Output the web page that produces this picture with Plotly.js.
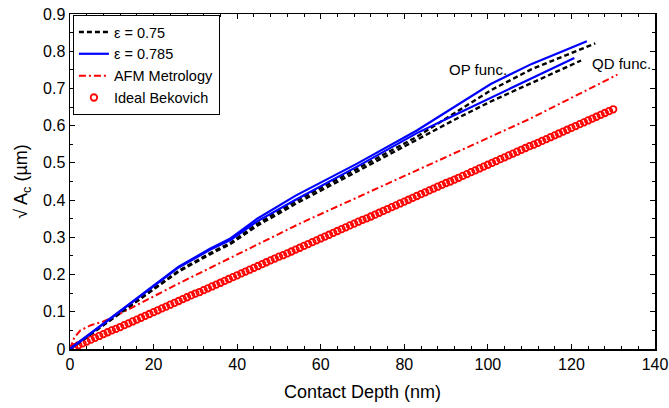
<!DOCTYPE html>
<html>
<head>
<meta charset="utf-8">
<script src="https://cdn.plot.ly/plotly-3.0.1.min.js"></script>
<style>html,body{margin:0;padding:0;background:#fff;}#chart{width:669px;height:408px;}</style>
</head>
<body>
<div id="chart"></div>
<script>
// ε = 0.785, OP function (upper solid blue)
const opBlueX = [0, 26, 33.6, 38.4, 44.8, 54, 68.7, 83, 100.7, 110.5, 123.7];
const opBlueY = [0, 0.221, 0.27, 0.297, 0.35, 0.412, 0.498, 0.587, 0.712, 0.766, 0.827];
// ε = 0.785, QD function (lower solid blue)
const qdBlueX = [0, 26, 33.6, 38.4, 44.8, 54, 68.7, 83, 92.7, 100.7, 120.7];
const qdBlueY = [0, 0.219, 0.267, 0.293, 0.343, 0.401, 0.49, 0.58, 0.632, 0.675, 0.782];
// ε = 0.75, OP function (upper black dashed)
const opBlackX = [0, 26, 33.6, 38.4, 44.8, 54, 68.7, 83, 100.7, 110.5, 125.7];
const opBlackY = [0, 0.21, 0.258, 0.285, 0.336, 0.397, 0.484, 0.57, 0.695, 0.752, 0.821];
// ε = 0.75, QD function (lower black dashed)
const qdBlackX = [0, 26, 33.6, 38.4, 44.8, 54, 68.7, 83, 92.7, 100.7, 122.3];
const qdBlackY = [0, 0.208, 0.255, 0.282, 0.331, 0.39, 0.477, 0.562, 0.62, 0.665, 0.775];
// AFM Metrology
const afmX = [0, 1, 2.5, 5, 8, 12, 26, 55, 83, 110, 131];
const afmY = [0, 0.03, 0.05, 0.064, 0.074, 0.095, 0.176, 0.337, 0.48, 0.618, 0.737];
// Ideal Berkovich
const idealX = [0,1,2,3,4,5,6,7,8,9,10,11,12,13,14,15,16,17,18,19,20,21,22,23,24,25,26,27,28,29,30,31,32,33,34,35,36,37,38,39,40,41,42,43,44,45,46,47,48,49,50,51,52,53,54,55,56,57,58,59,60,61,62,63,64,65,66,67,68,69,70,71,72,73,74,75,76,77,78,79,80,81,82,83,84,85,86,87,88,89,90,91,92,93,94,95,96,97,98,99,100,101,102,103,104,105,106,107,108,109,110,111,112,113,114,115,116,117,118,119,120,121,122,123,124,125,126,127,128,129,130];
const idealY = [0.000,0.005,0.010,0.015,0.020,0.025,0.030,0.035,0.040,0.045,0.050,0.054,0.059,0.064,0.069,0.074,0.079,0.084,0.089,0.094,0.099,0.104,0.109,0.114,0.119,0.124,0.129,0.134,0.139,0.144,0.149,0.153,0.158,0.163,0.168,0.173,0.178,0.183,0.188,0.193,0.198,0.203,0.208,0.213,0.218,0.223,0.228,0.233,0.238,0.243,0.248,0.252,0.257,0.262,0.267,0.272,0.277,0.282,0.287,0.292,0.297,0.302,0.307,0.312,0.317,0.322,0.327,0.332,0.337,0.342,0.347,0.351,0.356,0.361,0.366,0.371,0.376,0.381,0.386,0.391,0.396,0.401,0.406,0.411,0.416,0.421,0.426,0.431,0.436,0.441,0.446,0.450,0.455,0.460,0.465,0.470,0.475,0.480,0.485,0.490,0.495,0.500,0.505,0.510,0.515,0.520,0.525,0.530,0.535,0.540,0.545,0.549,0.554,0.559,0.564,0.569,0.574,0.579,0.584,0.589,0.594,0.599,0.604,0.609,0.614,0.619,0.624,0.629,0.634,0.639,0.644];

const seriesNames = ['ε = 0.75', 'ε = 0.785', 'AFM Metrology', 'Ideal Bekovich'];
const annotationTexts = ['OP func.', 'QD func.'];

const FONT = 'Liberation Sans, Arial, Helvetica, sans-serif';

const traces = [
  {x: idealX, y: idealY, type: 'scatter', mode: 'markers', name: seriesNames[3],
   marker: {symbol: 'circle-open', size: 6.5, color: '#ff0000', line: {width: 1.8, color: '#ff0000'}}, legendrank: 4},
  {x: afmX, y: afmY, type: 'scatter', mode: 'lines', name: seriesNames[2],
   line: {color: '#ff0000', width: 2, dash: '7px,3px,2px,3px'}, legendrank: 3},
  {x: opBlackX, y: opBlackY, type: 'scatter', mode: 'lines', name: seriesNames[0], legendgroup: 'b',
   line: {color: '#000000', width: 2.4, dash: '5px,3px'}, legendrank: 1},
  {x: qdBlackX, y: qdBlackY, type: 'scatter', mode: 'lines', name: seriesNames[0], legendgroup: 'b', showlegend: false,
   line: {color: '#000000', width: 2.4, dash: '5px,3px'}},
  {x: opBlueX, y: opBlueY, type: 'scatter', mode: 'lines', name: seriesNames[1], legendgroup: 'u',
   line: {color: '#0000ff', width: 2.2}, legendrank: 2},
  {x: qdBlueX, y: qdBlueY, type: 'scatter', mode: 'lines', name: seriesNames[1], legendgroup: 'u', showlegend: false,
   line: {color: '#0000ff', width: 2.2}}
];

const axisCommon = {
  showline: true, linecolor: '#000', linewidth: 1.5, mirror: 'ticks',
  ticks: 'inside', ticklen: 5, tickwidth: 1, tickcolor: '#000',
  showgrid: false, zeroline: false,
  tickfont: {family: FONT, size: 16, color: '#000'}
};

const layout = {
  width: 669, height: 408,
  margin: {l: 70, r: 14, t: 14, b: 59},
  paper_bgcolor: '#fff', plot_bgcolor: '#fff',
  showlegend: true,
  xaxis: Object.assign({}, axisCommon, {
    range: [0, 140], tick0: 0, dtick: 20,
    minor: {dtick: 4, ticks: 'inside', ticklen: 3, tickcolor: '#000', tickwidth: 1, showgrid: false},
    title: {text: 'Contact Depth (nm)', font: {family: FONT, size: 18, color: '#000'}, standoff: 13}
  }),
  yaxis: Object.assign({}, axisCommon, {
    range: [0, 0.9], tick0: 0, dtick: 0.1, tickformat: '.1~f',
    minor: {dtick: 0.05, ticks: 'inside', ticklen: 3, tickcolor: '#000', tickwidth: 1, showgrid: false},
    title: {text: '√ A<sub>c</sub> (µm)', font: {family: FONT, size: 18, color: '#000'}, standoff: 10}
  }),
  legend: {
    x: 0.005, y: 0.997, xanchor: 'left', yanchor: 'top',
    bgcolor: '#fff', bordercolor: '#000', borderwidth: 1,
    font: {family: FONT, size: 14.5, color: '#000'},
    tracegroupgap: 0, itemwidth: 30
  },
  annotations: [
    {x: 97.6, y: 0.751, xref: 'x', yref: 'y', text: annotationTexts[0], showarrow: false,
     font: {family: FONT, size: 15, color: '#000'}},
    {x: 131.9, y: 0.767, xref: 'x', yref: 'y', text: annotationTexts[1], showarrow: false,
     font: {family: FONT, size: 15, color: '#000'}}
  ]
};

Plotly.newPlot('chart', traces, layout, {displayModeBar: false, staticPlot: true});
</script>
</body>
</html>
